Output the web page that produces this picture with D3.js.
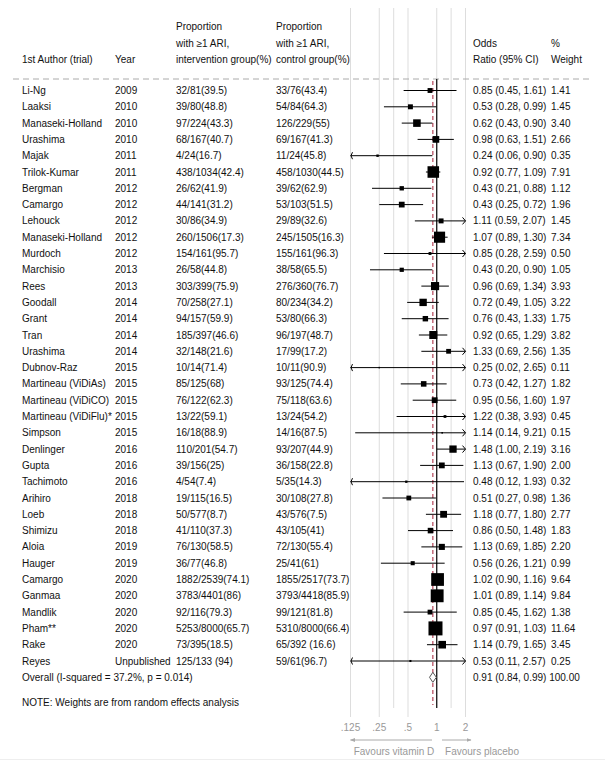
<!DOCTYPE html>
<html>
<head>
<meta charset="utf-8">
<script src="https://cdn.jsdelivr.net/npm/d3@7"></script>
<style>
  body { margin: 0; background: #fff; }
  text { font-family: "Liberation Sans", Arial, Helvetica, sans-serif; font-size: 10px; fill: #111; }
</style>
</head>
<body>
<svg id="chart" width="605" height="777"></svg>
<script>
const W = 605, H = 777;

const authors = ["Li-Ng","Laaksi","Manaseki-Holland","Urashima","Majak","Trilok-Kumar","Bergman","Camargo","Lehouck",
  "Manaseki-Holland","Murdoch","Marchisio","Rees","Goodall","Grant","Tran","Urashima","Dubnov-Raz","Martineau  (ViDiAs)",
  "Martineau (ViDiCO)","Martineau (ViDiFlu)*","Simpson","Denlinger","Gupta","Tachimoto","Arihiro","Loeb","Shimizu","Aloia",
  "Hauger","Camargo","Ganmaa","Mandlik","Pham**","Rake","Reyes"];
const years = ["2009","2010","2010","2010","2011","2011","2012","2012","2012","2012","2012","2013","2013","2014","2014",
  "2014","2014","2015","2015","2015","2015","2015","2016","2016","2016","2018","2018","2018","2019","2019","2020","2020",
  "2020","2020","2020","Unpublished"];
const interv = ["32/81(39.5)","39/80(48.8)","97/224(43.3)","68/167(40.7)","4/24(16.7)","438/1034(42.4)","26/62(41.9)",
  "44/141(31.2)","30/86(34.9)","260/1506(17.3)","154/161(95.7)","26/58(44.8)","303/399(75.9)","70/258(27.1)","94/157(59.9)",
  "185/397(46.6)","32/148(21.6)","10/14(71.4)","85/125(68)","76/122(62.3)","13/22(59.1)","16/18(88.9)","110/201(54.7)",
  "39/156(25)","4/54(7.4)","19/115(16.5)","50/577(8.7)","41/110(37.3)","76/130(58.5)","36/77(46.8)","1882/2539(74.1)",
  "3783/4401(86)","92/116(79.3)","5253/8000(65.7)","73/395(18.5)","125/133 (94)"];
const control = ["33/76(43.4)","54/84(64.3)","126/229(55)","69/167(41.3)","11/24(45.8)","458/1030(44.5)","39/62(62.9)",
  "53/103(51.5)","29/89(32.6)","245/1505(16.3)","155/161(96.3)","38/58(65.5)","276/360(76.7)","80/234(34.2)","53/80(66.3)",
  "96/197(48.7)","17/99(17.2)","10/11(90.9)","93/125(74.4)","75/118(63.6)","13/24(54.2)","14/16(87.5)","93/207(44.9)",
  "36/158(22.8)","5/35(14.3)","30/108(27.8)","43/576(7.5)","43/105(41)","72/130(55.4)","25/41(61)","1855/2517(73.7)",
  "3793/4418(85.9)","99/121(81.8)","5310/8000(66.4)","65/392 (16.6)","59/61(96.7)"];
const or = [0.85,0.53,0.62,0.98,0.24,0.92,0.43,0.43,1.11,1.07,0.85,0.43,0.96,0.72,0.76,0.92,1.33,0.25,0.73,0.95,1.22,1.14,
  1.48,1.13,0.48,0.51,1.18,0.86,1.13,0.56,1.02,1.01,0.85,0.97,1.14,0.53];
const lo = [0.45,0.28,0.43,0.63,0.06,0.77,0.21,0.25,0.59,0.89,0.28,0.20,0.69,0.49,0.43,0.65,0.69,0.02,0.42,0.56,0.38,0.14,
  1.00,0.67,0.12,0.27,0.77,0.50,0.69,0.26,0.90,0.89,0.45,0.91,0.79,0.11];
const hi = [1.61,0.99,0.90,1.51,0.90,1.09,0.88,0.72,2.07,1.30,2.59,0.90,1.34,1.05,1.33,1.29,2.56,2.65,1.27,1.60,3.93,9.21,
  2.19,1.90,1.93,0.98,1.80,1.48,1.85,1.21,1.16,1.14,1.62,1.03,1.65,2.57];
const weights = [1.41,1.45,3.40,2.66,0.35,7.91,1.12,1.96,1.45,7.34,0.50,1.05,3.93,3.22,1.75,3.82,1.35,0.11,1.82,1.97,0.45,
  0.15,3.16,2.00,0.32,1.36,2.77,1.83,2.20,0.99,9.64,9.84,1.38,11.64,3.45,0.25];
const overall = { label: "Overall  (I-squared = 37.2%, p = 0.014)", or: 0.91, lo: 0.84, hi: 0.99, w: "100.00" };

const tickVals = [0.125, 0.25, 0.5, 1, 2];
const tickLabels = [".125", ".25", ".5", "1", "2"];
const minorGrid = [0.354, 1.414];

const svg = d3.select("#chart");
const x = d3.scaleLog().domain([0.125, 2]).range([350.5, 465.5]);
const y = d3.scaleLinear().domain([0, 36]).range([90.5, 90.5 + 36 * 16.3]);
const size = d3.scaleSqrt().domain([0, 11.64]).range([0, 14]);
const fmt = d3.format(".2f");

const col = { author: 22, year: 115, interv: 176, control: 276, ci: 473, w: 551 };
const headY = 79;

// gridlines
svg.selectAll("line.grid").data(tickVals).enter().append("line")
  .attr("x1", d => x(d)).attr("x2", d => x(d))
  .attr("y1", 8).attr("y2", d => d === 1 ? headY : 717)
  .attr("stroke", "#ddd").attr("stroke-width", 1);
svg.selectAll("line.minor").data(minorGrid).enter().append("line")
  .attr("x1", d => x(d)).attr("x2", d => x(d))
  .attr("y1", 8).attr("y2", 708)
  .attr("stroke", "#ddd").attr("stroke-width", 1);

// header
const hdr = svg.append("g");
const headLines = [
  [col.author, 59, "1st Author (trial)"], [col.year, 59, "Year"],
  [col.interv, 26, "Proportion"], [col.interv, 43, "with ≥1 ARI,"], [col.interv, 59, "intervention group(%)"],
  [col.control, 26, "Proportion"], [col.control, 43, "with ≥1 ARI,"], [col.control, 59, "control group(%)"],
  [col.ci, 43, "Odds"], [col.ci, 59, "Ratio (95% CI)"], [col.w, 43, "%"], [col.w, 59, "Weight"]
];
hdr.selectAll("text").data(headLines).enter().append("text")
  .attr("x", d => d[0]).attr("y", d => d[1]).attr("dy", "0.35em").text(d => d[2]);

svg.append("line").attr("x1", 13).attr("x2", 593).attr("y1", headY).attr("y2", headY)
  .attr("stroke", "#aaa").attr("stroke-dasharray", "6,4");

// null line and overall line
svg.append("line").attr("x1", x(1)).attr("x2", x(1)).attr("y1", headY).attr("y2", 708)
  .attr("stroke", "#000").attr("stroke-width", 1.2);
svg.append("line").attr("x1", x(overall.or)).attr("x2", x(overall.or)).attr("y1", headY + 2).attr("y2", 705)
  .attr("stroke", "#b5475a").attr("stroke-width", 1.2).attr("stroke-dasharray", "4,3");

// rows
const rows = authors.map((a, i) => ({ a, yr: years[i], iv: interv[i], ct: control[i], or: or[i], lo: lo[i], hi: hi[i], w: weights[i], i }));
const g = svg.selectAll("g.row").data(rows).enter().append("g").attr("transform", d => `translate(0,${y(d.i)})`);

g.append("text").attr("x", col.author).attr("dy", "0.35em").text(d => d.a);
g.append("text").attr("x", col.year).attr("dy", "0.35em").text(d => d.yr);
g.append("text").attr("x", col.interv).attr("dy", "0.35em").text(d => d.iv);
g.append("text").attr("x", col.control).attr("dy", "0.35em").text(d => d.ct);
g.append("text").attr("x", col.ci).attr("dy", "0.35em").text(d => `${fmt(d.or)} (${fmt(d.lo)}, ${fmt(d.hi)})`);
g.append("text").attr("x", col.w).attr("dy", "0.35em").text(d => fmt(d.w));

const [xmin, xmax] = x.domain();
g.append("line")
  .attr("x1", d => x(Math.max(d.lo, xmin))).attr("x2", d => x(Math.min(d.hi, xmax)))
  .attr("stroke", "#000").attr("stroke-width", 1);
g.filter(d => d.lo < xmin).append("path")
  .attr("d", () => `M${x(xmin) + 2},-3.5 Q${x(xmin) - 1},0 ${x(xmin) + 2},3.5`)
  .attr("fill", "none").attr("stroke", "#000");
g.filter(d => d.hi > xmax).append("path")
  .attr("d", () => `M${x(xmax) - 3},-3.5 L${x(xmax)},0 L${x(xmax) - 3},3.5`)
  .attr("fill", "none").attr("stroke", "#000");
g.append("rect")
  .attr("x", d => x(d.or) - Math.max(size(d.w), 1.5) / 2).attr("y", d => -Math.max(size(d.w), 1.5) / 2)
  .attr("width", d => Math.max(size(d.w), 1.5)).attr("height", d => Math.max(size(d.w), 1.5))
  .attr("fill", "#000");

// overall
const yo = y(36);
svg.append("text").attr("x", col.author).attr("y", yo).attr("dy", "0.35em").text(overall.label);
svg.append("text").attr("x", col.ci).attr("y", yo).attr("dy", "0.35em")
  .text(`${fmt(overall.or)} (${fmt(overall.lo)}, ${fmt(overall.hi)}) ${overall.w}`);
svg.append("path")
  .attr("d", `M${x(overall.lo)},${yo} L${x(overall.or)},${yo - 5} L${x(overall.hi)},${yo} L${x(overall.or)},${yo + 5}Z`)
  .attr("fill", "#fff").attr("stroke", "#555").attr("stroke-width", 1);

svg.append("text").attr("x", col.author).attr("y", 702).attr("dy", "0.35em")
  .text("NOTE: Weights are from random effects analysis");

// axis labels
svg.selectAll("text.tick").data(tickVals).enter().append("text")
  .attr("x", d => x(d)).attr("y", 727).attr("dy", "0.35em").attr("text-anchor", "middle")
  .style("fill", "#999").text((d, i) => tickLabels[i]);

const defs = svg.append("defs");
defs.append("marker").attr("id", "ah").attr("viewBox", "0 0 10 10").attr("refX", 9).attr("refY", 5)
  .attr("markerWidth", 5).attr("markerHeight", 5).attr("orient", "auto-start-reverse")
  .append("path").attr("d", "M0,1 L10,5 L0,9Z").attr("fill", "#aaa");

svg.append("line").attr("x1", 432).attr("x2", x(0.125)).attr("y1", 740).attr("y2", 740)
  .attr("stroke", "#aaa").attr("marker-end", "url(#ah)");
svg.append("line").attr("x1", 442).attr("x2", 471).attr("y1", 740).attr("y2", 740)
  .attr("stroke", "#aaa").attr("marker-end", "url(#ah)");
svg.append("text").attr("x", 394).attr("y", 751).attr("dy", "0.35em").attr("text-anchor", "middle")
  .style("fill", "#999").text("Favours vitamin D");
svg.append("text").attr("x", 482).attr("y", 751).attr("dy", "0.35em").attr("text-anchor", "middle")
  .style("fill", "#999").text("Favours placebo");

svg.append("line").attr("x1", 0).attr("x2", W).attr("y1", 759.5).attr("y2", 759.5).attr("stroke", "#eee");
</script>
</body>
</html>
